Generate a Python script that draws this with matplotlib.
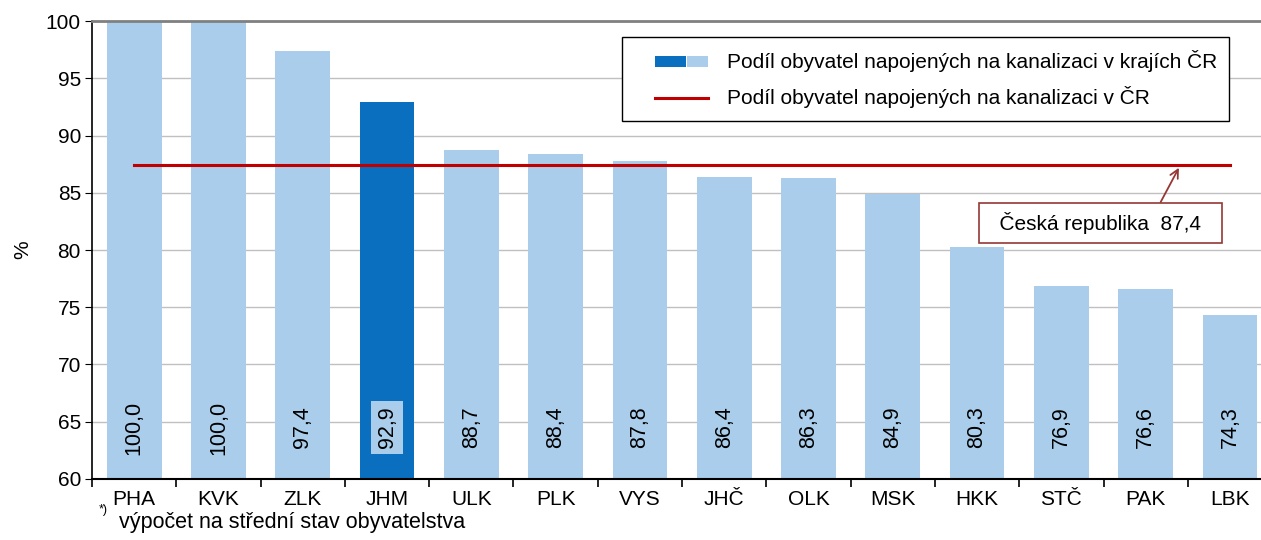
import matplotlib.pyplot as plt
from matplotlib.patches import Patch, Rectangle
from matplotlib.lines import Line2D

plt.rcParams['font.family'] = ['Liberation Sans', 'DejaVu Sans']

regions = ['PHA', 'KVK', 'ZLK', 'JHM', 'ULK', 'PLK', 'VYS', 'JHČ', 'OLK', 'MSK', 'HKK', 'STČ', 'PAK', 'LBK']
values = [100.0, 100.0, 97.4, 92.9, 88.7, 88.4, 87.8, 86.4, 86.3, 84.9, 80.3, 76.9, 76.6, 74.3]
cr_value = 87.4
highlight = 'JHM'

light = '#A9CDEA'
dark = '#0B6FBF'
red = '#C00000'


class OffsetHandler:
    # legend handle drawn in the right part of the handle box
    def __init__(self, kind, offset=0.27):
        self.kind = kind
        self.offset = offset

    def legend_artist(self, legend, orig_handle, fontsize, handlebox):
        x0, y0 = handlebox.xdescent, handlebox.ydescent
        w, h = handlebox.width, handlebox.height
        xs = x0 + w * self.offset
        ww = w - w * self.offset
        tr = handlebox.get_transform()
        if self.kind == 'bar':
            a = Rectangle((xs, y0 + h * 0.1), ww * 0.58, h * 0.8, fc=dark, ec='none', transform=tr)
            b = Rectangle((xs + ww * 0.6, y0 + h * 0.1), ww * 0.4, h * 0.8, fc=light, ec='none', transform=tr)
            handlebox.add_artist(a)
            handlebox.add_artist(b)
            return a
        ln = Line2D([xs, xs + ww], [y0 + h / 2, y0 + h / 2], color=red, lw=2.2, transform=tr)
        handlebox.add_artist(ln)
        return ln


fig = plt.figure(figsize=(12.61, 5.4), dpi=100)
ax = fig.add_axes([0.073, 0.113, 0.9358, 0.848])

x = list(range(len(regions)))
colors = [dark if r == highlight else light for r in regions]
ax.bar(x, [v - 60 for v in values], bottom=60, width=0.65, color=colors, zorder=2)
ax.plot([x[0], x[-1]], [cr_value, cr_value], color=red, lw=2.2, zorder=3)

# value labels inside bars
for i, (r, v) in enumerate(zip(regions, values)):
    lbl = f'{v:.1f}'.replace('.', ',')
    kw = {}
    if r == highlight:
        kw['bbox'] = dict(boxstyle='square,pad=0.25', fc=light, ec='none')
    ax.text(i, 64.5, lbl, rotation=90, ha='center', va='center', fontsize=15.5, zorder=4, **kw)

ax.set_xlim(-0.5, len(regions) - 0.5)
ax.set_ylim(60, 100)
ax.set_yticks(range(60, 101, 5))
ax.tick_params(axis='y', labelsize=15, length=5, direction='out', pad=3)
ax.set_xticks(x)
ax.set_xticklabels(regions, fontsize=15)
ax.set_xticks([i - 0.5 for i in range(len(regions) + 1)], minor=True)
ax.tick_params(axis='x', which='major', length=0, pad=8)
ax.tick_params(axis='x', which='minor', length=6, width=1.2, direction='out')
ax.grid(axis='y', color='#C0C0C0', lw=1, zorder=0)

ax.spines['right'].set_visible(False)
ax.spines['top'].set_color('#808080')
ax.spines['top'].set_linewidth(2)
ax.spines['left'].set_linewidth(1.2)
ax.spines['bottom'].set_linewidth(1.5)
ax.set_ylabel('%', fontsize=15, labelpad=10)

h_bar = Patch(fc=dark)
h_line = Line2D([], [], color=red)
labels = ['Podíl obyvatel napojených na kanalizaci v krajích ČR',
          'Podíl obyvatel napojených na kanalizaci v ČR']
leg = ax.legend([h_bar, h_line], labels,
                handler_map={h_bar: OffsetHandler('bar'), h_line: OffsetHandler('line')},
                loc='upper left', bbox_to_anchor=(0.4495, 0.965), borderaxespad=0,
                fontsize=15, frameon=True, fancybox=False, edgecolor='black', framealpha=1,
                handlelength=3.5, handleheight=0.6, handletextpad=0.9, borderpad=0.6,
                labelspacing=0.7)
leg.get_frame().set_linewidth(1)
leg.set_zorder(5)

ax.annotate('  Česká republika  87,4  ', xy=(12.41, cr_value), xytext=(11.46, 82.36),
            ha='center', va='center', fontsize=15,
            bbox=dict(boxstyle='square,pad=0.45', fc='white', ec='#953735', lw=1.2),
            arrowprops=dict(arrowstyle='->', color='#953735', lw=1.3, relpos=(0.746, 1),
                            shrinkA=0, shrinkB=2),
            zorder=5)

fig.text(0.078, 0.05, '*)', fontsize=9)
fig.text(0.094, 0.033, 'výpočet na střední stav obyvatelstva', fontsize=15.5, va='center')

fig.savefig('out.png', dpi=100)
